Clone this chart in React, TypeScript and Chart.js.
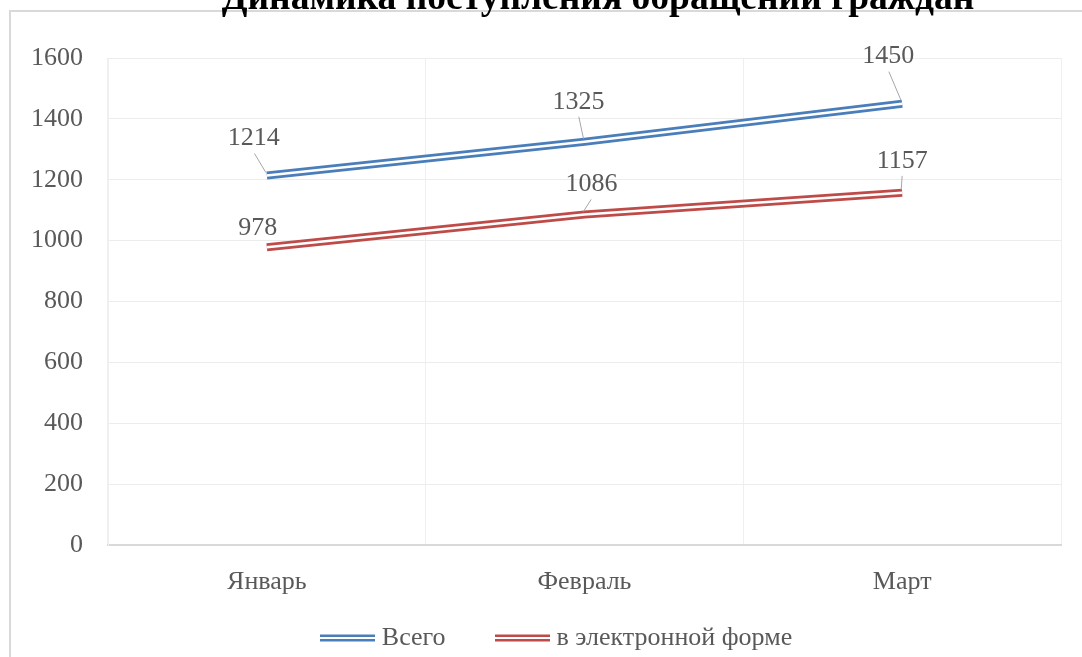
import React, { useEffect, useRef } from "react";
import { Chart, registerables } from "chart.js";

Chart.register(...registerables);

const categories = ["Январь", "Февраль", "Март"];
const totalValues = [1214, 1325, 1450];
const electronicValues = [978, 1086, 1157];
const seriesNames = ["Всего", "в электронной форме"];
const chartTitle = "Динамика поступления обращений граждан";
const yMin = 0;
const yMax = 1600;
const yStep = 200;

// label offsets (style): [dx, dy] relative to the point, and whether to draw a leader line
const totalLabelOffsets = [[-13, -37, 1], [-6, -40, 1], [-14, -47, 1]];
const electronicLabelOffsets = [[-9, -19, 0], [7, -30, 1], [0, -32, 1]];

const BLUE = "#4A7EBB";
const RED = "#BE4B48";
const TEXT = "#595959";
const FONT = "'Liberation Serif', 'Times New Roman', serif";

function makeDoubleLine(color: string) {
  const c = document.createElement("canvas");
  c.width = 55;
  c.height = 8;
  const ctx = c.getContext("2d")!;
  ctx.fillStyle = color;
  ctx.fillRect(0, 0.5, 55, 2.5);
  ctx.fillRect(0, 5, 55, 2.5);
  return c;
}

export default function App() {
  const ref = useRef<HTMLCanvasElement | null>(null);
  useEffect(() => {
    if (!ref.current) return;
    const styles = [makeDoubleLine(BLUE), makeDoubleLine(RED)];

    const decor = {
      id: "decor",
      afterDraw(chart: any) {
        const ctx = chart.ctx;
        ctx.save();
        // outer chart border
        ctx.strokeStyle = "#d9d9d9";
        ctx.lineWidth = 2;
        ctx.beginPath();
        ctx.moveTo(10, 657);
        ctx.lineTo(10, 11);
        ctx.lineTo(1082, 11);
        ctx.stroke();
        // title (cut off at the top)
        ctx.fillStyle = "#000";
        ctx.font = "bold 37.5px " + FONT;
        ctx.textAlign = "center";
        ctx.textBaseline = "alphabetic";
        ctx.fillText(chartTitle, 598, 9);
        // data labels
        ctx.font = "26px " + FONT;
        ctx.textBaseline = "middle";
        const groups: [number, number[][]][] = [
          [0, totalLabelOffsets],
          [2, electronicLabelOffsets],
        ];
        for (const [di, offs] of groups) {
          const meta = chart.getDatasetMeta(di);
          const ds = chart.data.datasets[di];
          meta.data.forEach((pt: any, i: number) => {
            const [dx, dy, leader] = offs[i];
            const lx = pt.x + dx;
            const ly = pt.y + dy;
            if (leader) {
              ctx.strokeStyle = "#a6a6a6";
              ctx.lineWidth = 1;
              ctx.beginPath();
              ctx.moveTo(lx - dx * 0.05, ly + 15);
              ctx.lineTo(pt.x - 1, pt.y - 3);
              ctx.stroke();
            }
            ctx.fillStyle = TEXT;
            ctx.fillText(String(ds.data[i]), lx, ly);
          });
        }
        // legend
        ctx.font = "26px " + FONT;
        ctx.textAlign = "left";
        const lineW = 55, gapText = 7, gapItem = 49;
        const w0 = ctx.measureText(seriesNames[0]).width;
        const w1 = ctx.measureText(seriesNames[1]).width;
        const total = lineW + gapText + w0 + gapItem + lineW + gapText + w1;
        let x = 556 - total / 2;
        const ly = 638;
        seriesNames.forEach((name, i) => {
          ctx.drawImage(styles[i], x, ly - 4);
          x += lineW + gapText;
          ctx.fillStyle = TEXT;
          ctx.fillText(name, x, ly);
          x += (i === 0 ? w0 : w1) + gapItem;
        });
        ctx.restore();
      },
    };

    const chart = new Chart(ref.current, {
      type: "line",
      data: {
        labels: categories,
        datasets: [
          { label: seriesNames[0], data: totalValues, borderColor: BLUE, borderWidth: 8, pointRadius: 0, borderCapStyle: "butt", order: 1 },
          { label: "_gap0", data: totalValues, borderColor: "#ffffff", borderWidth: 2.5, pointRadius: 0, borderCapStyle: "butt", order: 0 },
          { label: seriesNames[1], data: electronicValues, borderColor: RED, borderWidth: 8, pointRadius: 0, borderCapStyle: "butt", order: 1 },
          { label: "_gap1", data: electronicValues, borderColor: "#ffffff", borderWidth: 2.5, pointRadius: 0, borderCapStyle: "butt", order: 0 },
        ],
      },
      options: {
        animation: false,
        responsive: true,
        maintainAspectRatio: false,
        layout: { padding: { left: 0, right: 21, top: 58, bottom: 46 } },
        plugins: {
          title: { display: false },
          tooltip: { enabled: false },
          legend: { display: false },
        },
        scales: {
          x: {
            offset: true,
            grid: { offset: true, color: "#efefef", drawTicks: false },
            border: { color: "#d9d9d9", width: 2 },
            ticks: { color: TEXT, font: { family: FONT, size: 26 }, padding: 22 },
            afterFit: (s: any) => { s.height = 66; },
          },
          y: {
            min: yMin,
            max: yMax,
            ticks: {
              stepSize: yStep,
              color: TEXT,
              font: { family: FONT, size: 26 },
              padding: 25,
              callback: (v: any) => String(v),
            },
            grid: { color: "#ececec", drawTicks: false },
            border: { color: "#efefef" },
            afterFit: (s: any) => { s.width = 108; },
          },
        },
      },
      plugins: [decor],
    });
    return () => chart.destroy();
  }, []);
  return (
    <div style={{ position: "fixed", left: 0, top: 0, width: 1082, height: 657, background: "#fff" }}>
      <canvas ref={ref} />
    </div>
  );
}
